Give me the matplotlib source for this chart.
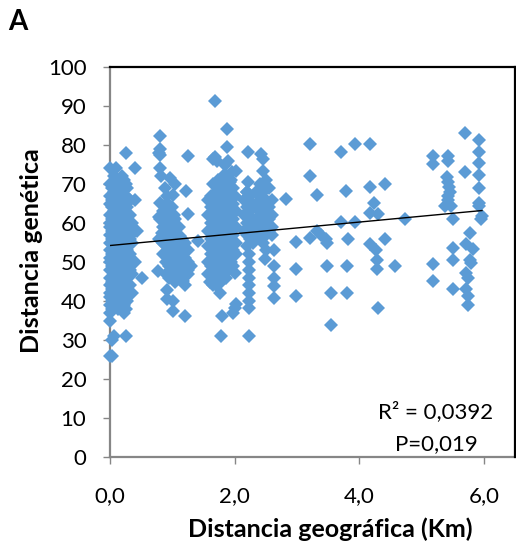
import numpy as np
import matplotlib
matplotlib.use("Agg")
import matplotlib.pyplot as plt

plt.rcParams["font.family"] = ["Lato", "DejaVu Sans"]

# Pairwise distances: geographic (km) vs genetic, grouped by distance band
band_0_x = ([0.00] * 21 + [0.03] * 14 + [0.06] * 12 + [0.10] * 11 + [0.13] * 11 +
            [0.16] * 10 + [0.20] * 10 + [0.22] * 11 + [0.25] * 13 + [0.28] * 9 +
            [0.32] * 7 + [0.36] * 5 + [0.40] * 4 + [0.43, 0.51])
band_0_y = [74, 70, 67, 65, 62, 60, 59, 57, 55, 53, 51, 50, 48, 46, 44, 42, 41, 39, 37, 35, 26,
            69, 66, 64, 61, 58, 56, 52, 49, 45, 43, 40, 38, 30, 26,
            72, 68, 63, 60, 57, 54, 50, 47, 44, 41, 39, 31,
            74, 70, 66, 62, 59, 55, 52, 49, 46, 43, 40,
            71, 67, 64, 60, 57, 53, 50, 47, 44, 41, 38,
            69, 65, 62, 58, 55, 51, 48, 45, 42, 39,
            72, 68, 64, 61, 57, 54, 50, 46, 43, 40,
            71, 66, 63, 59, 56, 52, 48, 45, 42, 39, 37,
            78, 70, 67, 65, 61, 58, 55, 51, 47, 44, 41, 38, 31,
            69, 64, 60, 57, 53, 49, 46, 43, 40,
            66, 62, 59, 56, 52, 48, 44,
            60, 55, 50, 47, 42,
            74, 66, 58, 50,
            58, 46]

band_1_x = ([0.80, 0.80, 0.78, 0.80, 0.80, 0.82, 0.96, 1.04, 1.01, 1.22, 1.25, 0.80, 0.96,
             1.03, 1.25, 0.80, 0.78, 0.83, 0.78, 1.12, 1.42, 0.77, 1.17, 0.91, 0.91, 1.01,
             1.01, 1.20, 1.20, 1.20, 1.25, 0.88, 0.92] +
            [0.85] * 4 + [0.90] * 6 + [0.95] * 6 + [1.00] * 6 + [1.05] * 6 +
            [1.10] * 5 + [1.15] * 4 + [1.20] * 3 + [1.25] * 3 + [1.30])
band_1_y = ([82.3, 79, 78, 77.5, 74.2, 72, 71.5, 70, 67.3, 68.2, 77.2, 65.2, 64.3,
             62, 62.2, 60.9, 61.5, 57.5, 56, 56.6, 55.3, 47.6, 45.1, 42.9, 40.4, 40,
             37.4, 36.2, 44.2, 47, 48, 69, 67] +
            [63, 59, 55, 52] + [65, 61, 57, 54, 50, 47] + [62, 59, 55, 52, 49, 46] +
            [64, 60, 57, 53, 50, 47] + [61, 58, 55, 51, 48, 45] + [59, 54, 52, 49, 46] +
            [56, 53, 50, 47] + [55, 51, 48] + [53, 50, 47] + [49])

band_2_x = ([1.69, 1.88, 1.88, 1.68, 1.65, 1.72, 1.85, 1.90, 1.95, 2.03, 1.88, 1.92, 1.98,
             2.00, 2.00, 1.76, 1.79, 2.00, 1.97, 2.03, 1.78, 1.60, 1.65] +
            [1.58] * 6 + [1.62] * 7 + [1.66] * 7 + [1.70] * 7 + [1.74] * 7 + [1.78] * 7 +
            [1.82] * 7 + [1.86] * 7 + [1.90] * 6 + [1.94] * 6 + [1.98] * 5 + [2.02] * 4)
band_2_y = ([91.2, 84.1, 79.4, 77, 76.5, 76, 75, 76, 73, 73.3, 72, 70.5, 69,
             67, 47.2, 42.1, 36.1, 38.2, 37, 39.2, 31.1, 45, 44] +
            [66, 62, 58, 54, 50, 47] + [67, 64, 60, 56, 52, 49, 45] +
            [70, 65, 61, 57, 53, 50, 46] + [68, 63, 59, 55, 51, 48, 44] +
            [71, 66, 62, 58, 54, 50, 47] + [69, 64, 60, 56, 52, 49, 45] +
            [72, 67, 63, 59, 55, 51, 48] + [70, 65, 61, 57, 53, 50, 46] +
            [68, 64, 60, 56, 52, 48] + [71, 66, 62, 58, 54, 50] +
            [65, 61, 57, 53, 49] + [63, 59, 55, 52])

band_3_x = ([2.22, 2.43, 2.46, 2.46, 2.22, 2.20, 2.50, 2.55, 2.60, 2.83, 2.48] +
            [2.15] * 3 + [2.20] * 5 + [2.25] * 4 + [2.30] * 4 + [2.35] * 4 + [2.40] * 5 +
            [2.45] * 5 + [2.50] * 5 + [2.55] * 3 + [2.60] * 3 +
            [2.23] * 9 + [2.64] * 5)
band_3_y = ([78.1, 77.6, 76.5, 73.3, 70.4, 68, 71, 69, 66, 66.1, 50.8] +
            [66, 62, 58] + [68, 64, 60, 57, 54] + [67, 63, 59, 56] + [65, 61, 58, 55] +
            [68, 64, 60, 57] + [70, 66, 62, 59, 56] + [68, 64, 61, 58, 55] +
            [66, 63, 60, 57, 53] + [64, 61, 58] + [62, 59, 57] +
            [52, 50, 48, 46, 44, 42, 40, 38.2, 31.1] + [53.2, 48.9, 45.9, 43.8, 40.8])

band_4_x = [2.98, 2.98, 2.98, 3.21, 3.21, 3.33, 3.21, 3.33, 3.38, 3.47, 3.49, 3.49, 3.55,
            3.54, 3.70, 3.70, 3.79, 3.82, 3.81, 3.81, 3.93, 3.93, 4.18, 4.18, 4.24, 4.18,
            4.30, 4.17, 4.27, 4.28, 4.28, 4.30, 4.41, 4.41, 4.57, 4.74]
band_4_y = [55.1, 48.1, 41.2, 80.2, 72.1, 67.1, 56.2, 57.9, 57, 55.8, 55, 49.1, 42.1,
            33.9, 78.1, 60.2, 68.2, 56, 49.1, 42.1, 80.2, 60.2, 80.2, 69.2, 65.2, 62.5,
            62.2, 54.5, 53.2, 50.6, 48.1, 38.2, 70.1, 56, 49.1, 61.1]

band_5_x = [5.18, 5.18, 5.18, 5.18, 5.42, 5.42, 5.41, 5.43, 5.44, 5.45, 5.43, 5.42, 5.37,
            5.48, 5.50, 5.50, 5.50, 5.50, 5.69, 5.69, 5.77, 5.72, 5.82, 5.77, 5.80, 5.72,
            5.74, 5.72, 5.75, 5.74, 5.92, 5.92, 5.92, 5.92, 5.92, 5.92, 5.92, 5.97, 5.95]
band_5_y = [77.2, 75.1, 49.4, 45.1, 77.2, 75.9, 71.7, 70.5, 69.3, 68, 67, 66, 64.3,
            64.3, 60.9, 53.6, 50.6, 43.1, 83.2, 73.1, 57.5, 54.5, 53.3, 50.6, 49.8, 47.2,
            46, 43, 41.2, 39.1, 81.3, 78.2, 75.3, 72.2, 69.1, 65.2, 64.3, 61.8, 60.9]

x_ticks = [0, 2, 4, 6]
x_tick_labels = ["0,0", "2,0", "4,0", "6,0"]
y_ticks = [0, 10, 20, 30, 40, 50, 60, 70, 80, 90, 100]
r2_label = "R² = 0,0392"
p_label = "P=0,019"

dist_km = np.array(band_0_x + band_1_x + band_2_x + band_3_x + band_4_x + band_5_x)
gen_dist = np.array(band_0_y + band_1_y + band_2_y + band_3_y + band_4_y + band_5_y)

fig = plt.figure(figsize=(5.16, 5.48), dpi=100)
ax = fig.add_axes([110 / 516, 91 / 548, 405 / 516, 390 / 548])

ax.plot(dist_km, gen_dist, linestyle="none", marker="D", markersize=7.6,
        markerfacecolor="#5B9BD5", markeredgewidth=0, zorder=3, clip_on=False)

# Least-squares trend line over the observed distance range
slope, intercept = np.polyfit(dist_km, gen_dist, 1)
xfit = np.array([0.0, dist_km.max()])
ax.plot(xfit, intercept + slope * xfit, color="black", linewidth=1.0, zorder=4)

ax.set_xlim(0, 6.5)
ax.set_ylim(0, 100)
ax.set_xticks(x_ticks)
ax.set_xticklabels(x_tick_labels)
ax.set_yticks(y_ticks)

for side in ("top", "right"):
    ax.spines[side].set_color("black")
    ax.spines[side].set_linewidth(1.6)
for side in ("left", "bottom"):
    ax.spines[side].set_color("#868686")
    ax.spines[side].set_linewidth(1.6)
    ax.spines[side].set_zorder(2)

ax.tick_params(axis="both", direction="out", length=5, width=1.0, color="#868686",
               labelsize=16, labelcolor="black")
ax.tick_params(axis="y", pad=12)
ax.tick_params(axis="x", pad=16)

ax.set_xlabel("Distancia geográfica (Km)", fontsize=18, fontweight="bold")
ax.set_ylabel("Distancia genética", fontsize=18, fontweight="bold")
ax.xaxis.set_label_coords(0.543, -0.155)
ax.yaxis.set_label_coords(-0.165, 0.53)

ax.text(0.805, 0.10, r2_label, transform=ax.transAxes, fontsize=16,
        ha="center", va="baseline")
ax.text(0.805, 0.018, p_label, transform=ax.transAxes, fontsize=16,
        ha="center", va="baseline")

fig.text(8 / 516, 1 - 30 / 548, "A", fontsize=20, fontweight="bold",
         ha="left", va="baseline")

fig.savefig("out.png", dpi=100)
